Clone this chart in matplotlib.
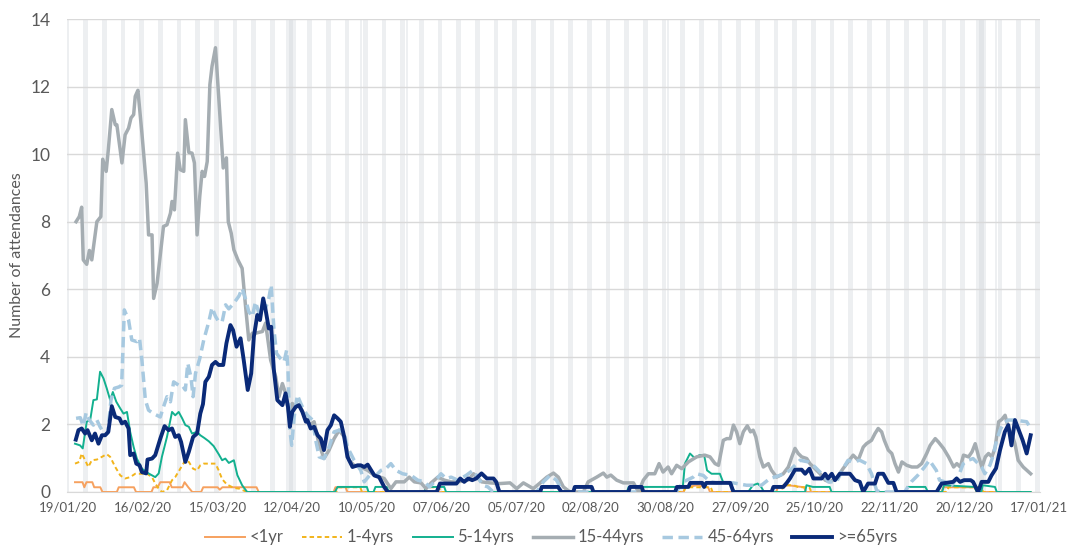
import numpy as np
import pandas as pd
import matplotlib
matplotlib.use("Agg")
import matplotlib.pyplot as plt

plt.rcParams['font.family'] = ['Lato', 'DejaVu Sans']

# x values are days since 19/01/20
x_labels = ['19/01/20', '16/02/20', '15/03/20', '12/04/20', '10/05/20', '07/06/20', '05/07/20',
            '02/08/20', '30/08/20', '27/09/20', '25/10/20', '22/11/20', '20/12/20', '17/01/21']

bank_holidays = [(82, 85), (110, 110), (127, 127), (225, 225), (341, 344), (348, 348)]

under1_days = [2.5, 5.3, 6.0, 6.8, 9.0, 9.7, 12.0, 12.8, 18.2, 18.9, 24.6, 25.4, 31.2, 31.9, 33.5, 34.5,
               38.0, 38.8, 42.8, 43.6, 45.0, 46.5, 49.8, 50.6, 56.0, 56.8, 57.8, 70.6, 71.4, 99.5, 100.2,
               104.0, 104.7, 230.8, 231.5, 236.0, 240.0, 240.7, 265.5, 266.2, 270.0, 276.0, 276.7,
               327.5, 328.2, 340.0, 340.7, 361.0]
under1_vals = [0.29, 0.29, 0.14, 0.29, 0.29, 0.14, 0.14, 0, 0, 0.14, 0.14, 0, 0, 0.14, 0.14, 0.29,
               0.29, 0.14, 0.14, 0.29, 0.14, 0, 0, 0.14, 0.14, 0.07, 0.14, 0.14, 0, 0, 0.14,
               0.14, 0, 0, 0.14, 0.2, 0.14, 0, 0, 0.14, 0.2, 0.14, 0,
               0, 0.14, 0.14, 0, 0]

age1_4_days = [2.5, 4.1, 5.0, 6.3, 7.5, 8.8, 10.7, 12.6, 14.4, 15.7, 17.6, 19.5, 21.3, 23.2, 25.1, 27.6,
               29.5, 31.4, 32.6, 33.9, 35.1, 37.0, 38.9, 40.1, 42.0, 43.9, 45.2, 46.8, 48.3, 49.5, 50.8,
               52.7, 55.2, 56.4, 57.7, 59.5, 62.1, 64.0, 67.1, 100.5, 101.2, 109.5, 110.2, 133.5, 134.2,
               139.0, 139.7, 230.8, 231.5, 241.0, 241.7, 267.5, 268.2, 272.0, 274.0, 278.0, 278.7,
               329.5, 330.2, 342.5, 343.2, 361.0]
age1_4_vals = [0.84, 0.89, 1.14, 0.94, 0.74, 0.94, 0.96, 1.04, 1.12, 1.04, 0.74, 0.49, 0.40, 0.44, 0.54, 0.54,
               0.54, 0.44, 0.25, 0.10, 0, 0.05, 0.35, 0.44, 0.69, 0.94, 0.89, 0.69, 0.64, 0.79, 0.84,
               0.84, 0.84, 0.64, 0.38, 0.22, 0.12, 0.10, 0, 0, 0.14, 0.14, 0, 0, 0.14,
               0.14, 0, 0, 0.14, 0.14, 0, 0, 0.20, 0.20, 0.14, 0.14, 0,
               0, 0.14, 0.14, 0, 0]

age5_14_days = [2.5, 4.4, 5.4, 6.9, 8.2, 9.4, 10.7, 11.9, 13.2, 14.4, 15.7, 16.7, 18.0, 19.5, 20.7, 22.0,
                23.2, 24.5, 25.7, 27.6, 30.1, 32.6, 33.9, 35.1, 37.0, 38.9, 40.1, 41.4, 42.7, 43.9, 45.2,
                46.4, 48.3, 49.5, 51.0, 52.7, 54.5, 56.4, 57.7, 58.9, 60.2, 62.1, 63.4, 65.2, 67.1,
                100.0, 101.0, 112.0, 112.6, 114.5, 115.2, 119.5, 120.2, 133.5, 134.2, 141.0, 141.7,
                209.5, 210.2, 224.0, 230.5, 231.3, 233.2, 235.0, 236.7, 238.5, 239.6, 241.3, 244.4,
                245.6, 248.3, 250.0, 255.0, 256.8, 258.6, 259.9, 261.0, 276.4, 276.9, 279.3, 285.6,
                286.3, 314.2, 314.8, 321.5, 322.5, 327.8, 328.5, 340.0, 340.8, 342.5, 343.0, 347.6,
                348.3, 361.0]
age5_14_vals = [1.43, 1.38, 1.29, 2.08, 2.13, 2.72, 2.74, 3.56, 3.36, 3.07, 2.72, 2.96, 2.67, 2.47, 2.32, 2.37,
                1.78, 1.33, 0.99, 0.69, 0.55, 0.44, 0.55, 1.04, 1.63, 2.37, 2.27, 2.37, 2.18, 1.98, 1.93,
                1.73, 1.78, 1.68, 1.60, 1.50, 1.36, 1.12, 0.94, 0.99, 0.86, 0.94, 0.50, 0.20, 0,
                0, 0.15, 0.15, 0, 0, 0.15, 0.15, 0, 0, 0.15, 0.15, 0,
                0, 0.15, 0.15, 0.15, 0.84, 1.14, 1.00, 1.09, 1.10, 0.64, 0.54, 0.54,
                0.30, 0.25, 0, 0, 0.20, 0.25, 0.15, 0, 0, 0.20, 0.15, 0.15,
                0, 0, 0.15, 0.15, 0, 0, 0.20, 0.15, 0, 0, 0.20, 0.15,
                0, 0]

age15_44_days = [2.9, 4.1, 5.0, 5.6, 6.9, 7.9, 8.8, 10.7, 12.2, 12.9, 14.2, 15.0, 16.3, 17.6, 18.2, 20.1,
                 21.3, 22.6, 23.5, 24.5, 25.1, 26.1, 27.6, 29.2, 30.1, 31.4, 32.0, 33.3, 35.7, 37.0, 38.3,
                 38.9, 39.8, 41.0, 42.0, 43.3, 43.9, 45.2, 46.4, 47.3, 48.3, 49.3, 50.2, 51.1, 52.1, 53.1,
                 53.9, 55.2, 56.4, 58.1, 59.3, 60.0, 61.1, 62.1, 63.6, 65.2, 66.5, 67.7, 69.0, 70.2, 72.8,
                 74.0, 75.9, 77.8, 79.0, 80.3, 81.5, 82.8, 84.0, 85.3, 86.5, 87.8, 89.1, 90.9, 92.2, 94.0,
                 95.9, 97.8, 99.7, 101.6, 103.5, 105.3, 107.2, 109.7, 112.3, 114.8, 118.5, 121.0, 122.9,
                 126.0, 127.9, 129.8, 132.3, 134.2, 136.1, 138.6, 141.1, 143.6, 146.1, 149.9, 152.0, 155.0,
                 158.2, 161.9, 165.7, 168.2, 170.7, 174.4, 177.0, 179.5, 182.0, 183.8, 185.7, 188.2, 193.2,
                 195.0, 198.2, 200.7, 202.0, 203.5, 205.7, 208.2, 212.0, 213.9, 215.7, 217.6, 220.0, 221.6,
                 223.1, 225.0, 226.3, 228.2, 230.1, 232.6, 235.7, 238.8, 240.7, 242.6, 243.9, 245.7, 247.0,
                 248.3, 249.5, 250.7, 251.9, 253.2, 254.7, 255.9, 256.9, 257.9, 259.4, 260.7, 262.6, 263.8,
                 265.7, 268.2, 270.1, 271.4, 272.6, 273.8, 275.1, 277.0, 278.2, 280.1, 282.0, 283.9, 285.6,
                 288.1, 290.6, 292.5, 294.4, 296.3, 298.2, 299.4, 301.3, 302.6, 303.8, 305.1, 306.1, 307.6,
                 308.9, 310.1, 311.4, 312.7, 314.5, 316.4, 318.5, 320.1, 322.0, 323.3, 325.2, 326.4, 328.3,
                 330.2, 332.1, 333.3, 334.6, 335.8, 337.7, 339.0, 340.2, 341.5, 342.7, 344.0, 345.2, 346.5,
                 347.7, 349.0, 350.2, 351.4, 352.7, 353.9, 355.1, 356.3, 358.2, 361.0]
age15_44_vals = [8.00, 8.15, 8.43, 6.87, 6.74, 7.15, 6.87, 8.00, 8.15, 9.85, 9.49, 10.13, 11.32, 10.87, 10.87, 9.74,
                 10.57, 10.77, 11.07, 11.17, 11.71, 11.89, 10.62, 9.14, 7.61, 7.61, 5.73, 6.18, 7.86, 7.91, 8.25,
                 8.60, 8.35, 10.03, 9.54, 9.49, 11.02, 10.05, 10.03, 9.74, 7.61, 8.75, 9.49, 9.34, 9.78, 12.06,
                 12.60, 13.15, 11.71, 9.59, 9.89, 8.00, 7.66, 7.17, 6.87, 6.62, 5.48, 4.50, 4.70, 4.70, 4.75,
                 5.00, 3.90, 3.41, 2.82, 3.21, 2.92, 2.27, 2.62, 2.52, 2.57, 2.40, 2.13, 2.00, 2.08, 1.43,
                 0.99, 1.24, 1.58, 1.83, 1.63, 0.94, 0.79, 0.74, 0.64, 0.49, 0.40, 0.10, 0.30,
                 0.30, 0.44, 0.30, 0.27, 0.10, 0.27, 0.44, 0.35, 0.30, 0.30, 0.35, 0.54, 0.30,
                 0.27, 0.25, 0.27, 0.10, 0.27, 0.10, 0.27, 0.44, 0.56, 0.44, 0.15, 0, 0,
                 0.30, 0.44, 0.56, 0.44, 0.50, 0.35, 0.27, 0.27, 0, 0.35, 0.54, 0.54, 0.84,
                 0.59, 0.74, 0.54, 0.79, 0.69, 0.89, 1.04, 1.09, 1.04, 0.84, 0.79, 1.53, 1.58,
                 1.58, 1.98, 1.78, 1.43, 1.78, 1.96, 1.78, 1.83, 1.63, 1.04, 0.74, 0.84, 0.64,
                 0.44, 0.54, 0.74, 1.04, 1.29, 1.14, 1.04, 0.99, 0.84, 0.69, 0.54, 0.35, 0.30,
                 0.40, 0.69, 0.89, 1.09, 0.94, 1.33, 1.43, 1.53, 1.73, 1.88, 1.78, 1.53, 1.24,
                 1.14, 0.84, 0.59, 0.89, 0.79, 0.74, 0.74, 0.84, 1.14, 1.38, 1.58, 1.48, 1.29,
                 1.04, 0.74, 0.84, 0.74, 1.09, 1.04, 1.19, 1.43, 1.04, 0.74, 1.04, 1.14, 1.04,
                 1.33, 2.08, 2.15, 2.27, 1.88, 1.73, 1.43, 0.94, 0.74, 0.54]

age45_64_days = [2.9, 4.5, 5.6, 6.7, 7.9, 9.4, 10.7, 11.9, 13.8, 14.8, 16.0, 17.3, 19.0, 20.0, 21.0, 22.6,
                 23.8, 25.7, 26.7, 27.6, 28.9, 30.1, 32.0, 34.5, 35.7, 37.0, 38.3, 39.5, 41.4, 42.7, 43.9,
                 44.8, 46.0, 46.8, 47.7, 49.3, 50.8, 52.7, 53.9, 55.2, 56.4, 57.7, 59.0, 60.2, 62.1, 64.0,
                 65.2, 66.5, 67.7, 69.0, 70.2, 71.5, 72.8, 74.0, 75.2, 76.1, 77.1, 78.1, 79.6, 80.9, 81.9,
                 82.4, 83.1, 83.8, 84.7, 85.9, 87.2, 88.4, 89.7, 91.6, 92.8, 94.1, 95.9, 97.8, 99.7, 101.6,
                 103.5, 104.7, 107.2, 109.7, 111.0, 113.5, 115.4, 117.3, 119.1, 121.0, 122.9, 125.4, 128.6,
                 131.1, 133.6, 135.5, 137.3, 139.8, 141.7, 143.6, 146.1, 149.2, 151.8, 153.6, 155.5, 157.4,
                 159.4, 175.7, 178.2, 180.7, 183.1, 185.6, 228.0, 230.7, 234.4, 235.7, 238.2, 240.7, 243.2,
                 249.4, 254.4, 260.0, 263.2, 266.9, 270.7, 274.5, 277.6, 280.1, 282.6, 285.1, 288.2, 290.6,
                 292.5, 294.4, 296.9, 299.4, 301.3, 303.2, 304.5, 313.7, 316.2, 318.6, 321.2, 323.0, 325.6,
                 326.8, 328.8, 331.3, 333.8, 335.7, 337.6, 339.4, 341.3, 342.6, 343.8, 345.7, 347.0, 348.2,
                 349.5, 350.8, 352.6, 355.2, 357.6, 359.5, 361.0]
age45_64_vals = [2.18, 2.20, 1.95, 2.35, 2.13, 1.98, 2.13, 1.93, 1.68, 1.75, 2.72, 3.07, 3.11, 3.16, 5.39, 5.09,
                 4.50, 4.45, 4.55, 3.90, 2.72, 2.42, 2.32, 2.22, 2.52, 2.82, 2.67, 3.26, 3.16, 3.16, 3.02,
                 3.81, 3.40, 2.82, 3.51, 3.95, 4.50, 5.04, 5.46, 5.20, 5.04, 5.04, 5.54, 5.42, 5.59, 5.80,
                 6.03, 5.70, 5.34, 5.19, 5.63, 5.29, 5.54, 5.44, 5.73, 6.13, 4.84, 4.10, 3.95, 3.85, 4.20,
                 3.61, 1.83, 1.38, 2.22, 2.87, 2.62, 2.42, 2.27, 2.13, 1.53, 1.04, 0.99, 1.33, 1.78, 1.83,
                 1.73, 1.33, 0.94, 0.64, 0.30, 0.54, 0.49, 0.64, 0.69, 0.84, 0.64, 0.54, 0.49,
                 0.35, 0.30, 0.15, 0.30, 0.54, 0.40, 0.44, 0.35, 0.49, 0.64, 0.44, 0.20, 0.15,
                 0, 0, 0.30, 0.49, 0.35, 0, 0, 0.30, 0.44, 0.54, 0.49, 0.30, 0.27,
                 0.27, 0.20, 0.20, 0.40, 0.49, 0.64, 0.94, 0.89, 0.74, 0.54, 0.30, 0.30, 0.69,
                 0.94, 0.89, 0.94, 0.84, 0.54, 0.05, 0, 0, 0.30, 0.49, 0.74, 0.94, 0.64,
                 0.35, 0.30, 0.20, 0.44, 0.84, 0.94, 0.99, 0.84, 0.74, 0.54, 0.79, 1.09, 1.53,
                 1.83, 2.03, 2.13, 2.13, 2.10, 2.08, 1.88]

age65_days = [2.8, 3.8, 5.0, 6.3, 7.2, 8.8, 10.0, 11.3, 12.6, 13.8, 15.0, 16.3, 17.6, 19.2, 20.1, 21.3,
              22.6, 23.2, 24.5, 25.5, 26.7, 27.6, 29.2, 29.7, 31.4, 32.6, 34.5, 36.1, 37.6, 38.9, 40.1,
              41.4, 42.3, 43.9, 45.2, 46.8, 48.3, 49.5, 50.5, 51.4, 52.7, 53.9, 55.2, 56.4, 58.1, 59.3,
              60.8, 61.8, 63.1, 64.6, 65.8, 67.3, 68.6, 69.6, 70.9, 71.9, 73.1, 74.0, 75.2, 76.1, 77.1,
              78.4, 80.3, 81.5, 82.4, 83.1, 84.0, 85.3, 86.5, 87.8, 89.1, 89.7, 90.9, 92.2, 93.5, 94.7,
              95.9, 97.2, 98.5, 99.7, 101.0, 102.2, 103.5, 104.7, 106.6, 108.5, 109.7, 111.0, 112.3,
              114.8, 116.6, 118.5, 119.8, 138.2, 139.4, 145.6, 147.0, 148.5, 150.0, 151.5, 153.0, 155.0,
              157.0, 159.5, 160.5, 161.7, 177.0, 177.6, 183.7, 185.0, 189.4, 190.0, 196.3, 197.0, 210.1,
              210.7, 215.1, 215.7, 227.6, 228.3, 232.6, 233.3, 237.8, 238.5, 239.3, 248.3, 249.5, 263.8,
              264.5, 268.2, 269.5, 270.7, 272.6, 275.1, 276.4, 278.0, 279.5, 282.6, 283.9, 285.0, 286.4,
              287.6, 289.4, 293.2, 295.1, 296.9, 298.2, 300.0, 302.6, 303.8, 305.7, 307.6, 309.5, 310.7,
              325.7, 327.6, 331.9, 333.2, 334.5, 336.0, 338.5, 339.4, 341.3, 342.6, 345.1, 346.3, 348.0,
              349.5, 351.3, 352.6, 353.8, 355.1, 356.3, 358.0, 359.5, 361.0]
age65_vals = [1.55, 1.83, 1.88, 1.73, 1.83, 1.53, 1.73, 1.43, 1.68, 1.68, 1.78, 2.54, 2.22, 2.18, 2.03, 2.08,
              1.88, 1.09, 1.14, 0.84, 0.79, 0.59, 0.55, 0.96, 0.99, 1.09, 1.58, 1.95, 1.83, 1.88, 1.63,
              1.68, 1.48, 0.89, 1.19, 1.63, 1.73, 2.32, 2.60, 3.26, 3.41, 3.76, 3.85, 3.76, 3.76, 4.40,
              4.94, 4.79, 4.30, 4.55, 3.90, 3.02, 3.51, 4.60, 5.24, 5.09, 5.73, 5.39, 4.84, 4.89, 3.61,
              2.72, 2.57, 2.92, 2.52, 1.93, 2.37, 2.52, 2.57, 2.37, 2.08, 2.13, 1.88, 1.93, 1.68, 1.58,
              1.24, 1.83, 1.98, 2.27, 2.18, 2.08, 1.63, 1.04, 0.74, 0.79, 0.79, 0.74, 0.81,
              0.49, 0.44, 0.15, 0, 0, 0.25, 0.25, 0.40, 0.30, 0.40, 0.35, 0.40, 0.55,
              0.40, 0.40, 0.30, 0, 0, 0.15, 0.15, 0, 0, 0.15, 0.15, 0, 0,
              0.15, 0.15, 0, 0, 0.15, 0.15, 0.27, 0.27, 0.15, 0.27, 0.27, 0, 0,
              0.15, 0.15, 0.27, 0.40, 0.66, 0.66, 0.54, 0.69, 0.40, 0.40, 0.54, 0.40, 0.54,
              0.35, 0.54, 0.54, 0.35, 0.30, 0, 0.25, 0.25, 0.54, 0.54, 0.27, 0.27, 0,
              0, 0.25, 0.30, 0.40, 0.30, 0.35, 0.35, 0.30, 0, 0.30, 0.30, 0.49, 0.70,
              1.24, 1.78, 1.98, 1.38, 2.13, 1.88, 1.53, 1.14, 1.68]

series = [
    ('<1yr', under1_days, under1_vals, '#F6A15F', 1.4, '-'),
    ('1-4yrs', age1_4_days, age1_4_vals, '#F2B41B', 1.4, (0, (2.3, 1.6))),
    ('5-14yrs', age5_14_days, age5_14_vals, '#13B08F', 1.4, '-'),
    ('15-44yrs', age15_44_days, age15_44_vals, '#A5ADB2', 2.5, '-'),
    ('45-64yrs', age45_64_days, age45_64_vals, '#A7C9E0', 2.5, (0, (3.0, 1.6))),
    ('>=65yrs', age65_days, age65_vals, '#0A2A78', 2.8, '-'),
]

fig = plt.figure(figsize=(10.68, 5.45), dpi=100)
ax = fig.add_axes([67 / 1068, 1 - 492 / 545, 973 / 1068, 473 / 545])

# weekend bands and bank holidays
start = pd.Timestamp('2020-01-19')
all_days = pd.date_range('2020-01-18', '2021-01-17')
for d in all_days[all_days.dayofweek == 5]:
    off = (d - start).days
    ax.axvspan(off - 0.4, off + 1.35, color='#EDEFF1', lw=0, zorder=0.2)
for a, b in bank_holidays:
    ax.axvspan(a - 0.4, b + 0.35, color='#C9CFD5', alpha=0.3, lw=0, zorder=0.3)

for name, days, vals, col, lw, ls in series:
    ax.plot(days, vals, color=col, lw=lw, linestyle=ls, label=name,
            solid_joinstyle='round', dash_capstyle='butt', zorder=3)

ax.set_xlim(-0.5, 364.5)
ax.set_ylim(0, 14)
ax.set_yticks(np.arange(0, 15, 2))
ax.set_xticks(np.arange(len(x_labels)) * 28)
ax.set_xticklabels(x_labels)
ax.set_axisbelow(True)
ax.yaxis.grid(True, color='#D9D9D9', lw=1)
for s in ['top', 'right', 'left']:
    ax.spines[s].set_visible(False)
ax.spines['bottom'].set_color('#D9D9D9')
ax.tick_params(axis='y', length=0, pad=12, labelsize=12.5, labelcolor='#595959')
ax.tick_params(axis='x', length=0, pad=7, labelsize=9.5, labelcolor='#595959')
ax.set_ylabel('Number of attendances', fontsize=11.5, color='#595959')
ax.yaxis.set_label_coords(-0.044, 0.5)

fig.legend(loc='center', bbox_to_anchor=(0.516, 0.014), ncol=6, frameon=False,
           fontsize=12, handlelength=2.4, handletextpad=0.3, columnspacing=1.1,
           labelcolor='#595959')

fig.savefig('out.png', dpi=100)
